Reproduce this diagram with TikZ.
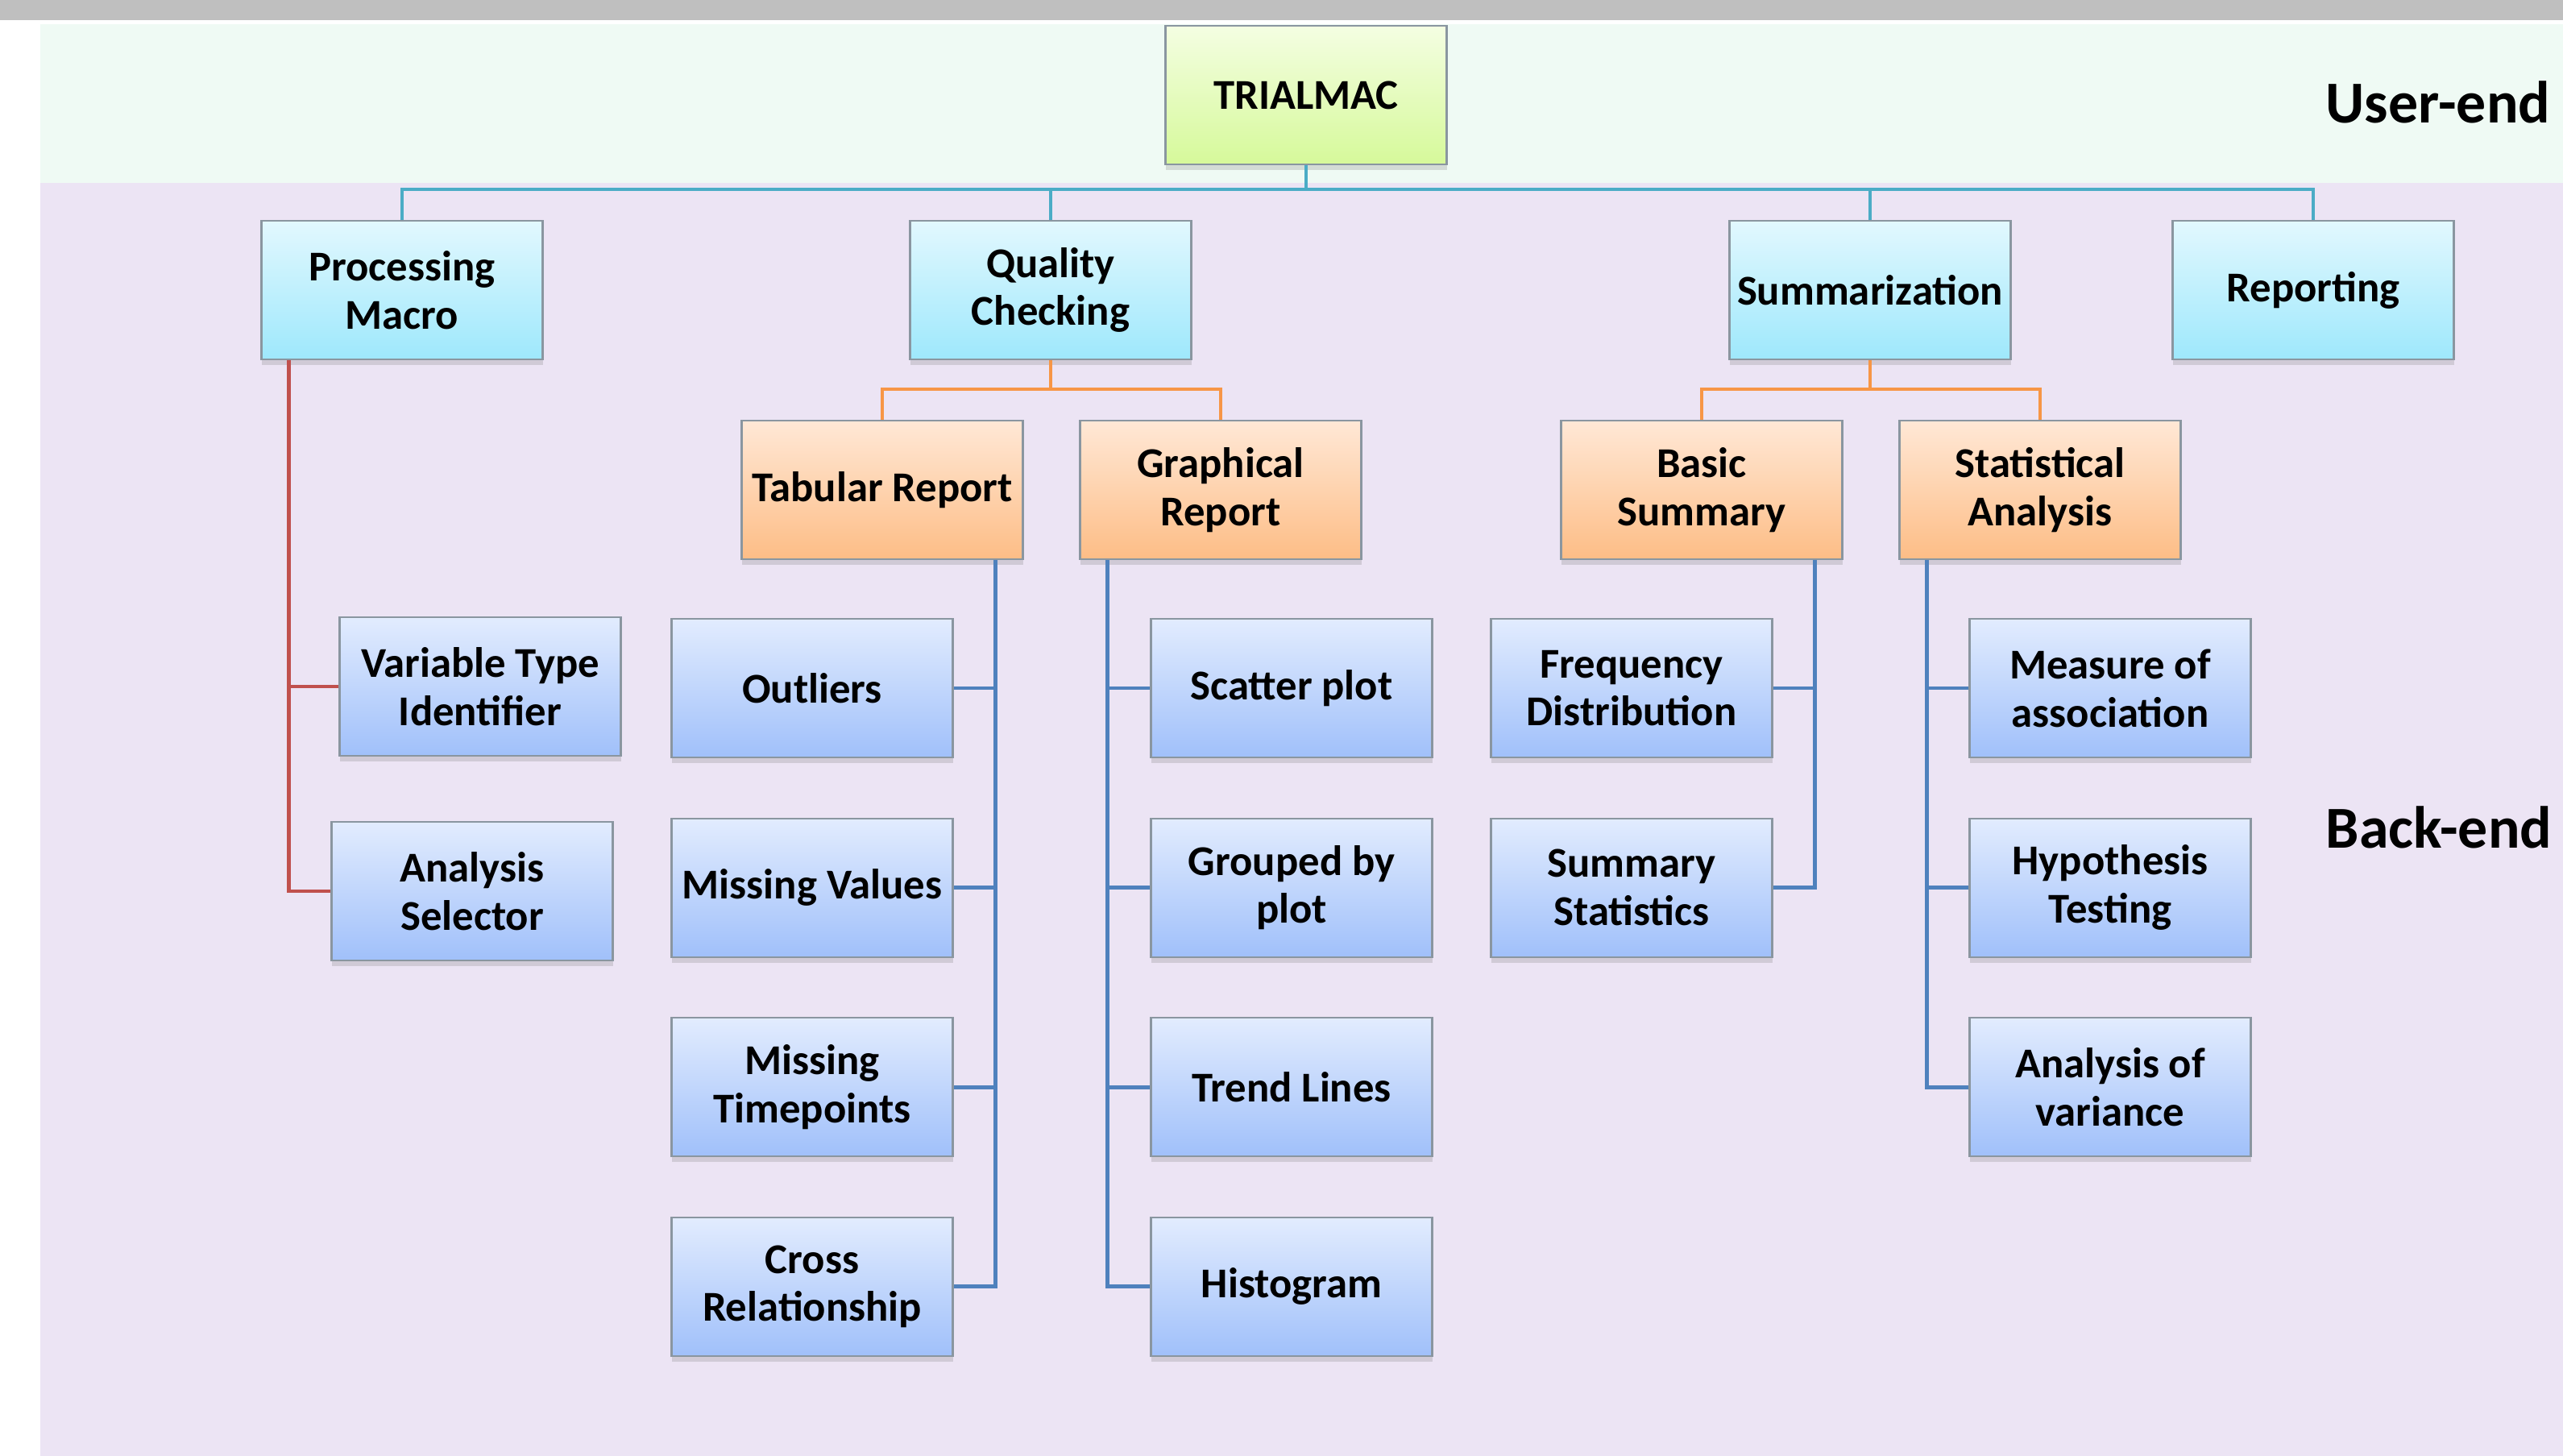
\documentclass[tikz,border=0pt]{standalone}
\usepackage{fontspec}
\setmainfont{Carlito}
\usetikzlibrary{positioning,calc,shadows}
\definecolor{topBar}{HTML}{BFBFBF}
\definecolor{userBg}{HTML}{EFFAF4}
\definecolor{backBg}{HTML}{ECE4F4}
\definecolor{boxEdge}{HTML}{8A96A0}
\definecolor{rootTop}{HTML}{F4FEE2}
\definecolor{rootBot}{HTML}{D6F99A}
\definecolor{mainTop}{HTML}{E2F8FE}
\definecolor{mainBot}{HTML}{9EE8FC}
\definecolor{subTop}{HTML}{FFE8D6}
\definecolor{subBot}{HTML}{FDBD86}
\definecolor{leafTop}{HTML}{E2ECFE}
\definecolor{leafBot}{HTML}{A0C0FA}
\definecolor{linkTeal}{HTML}{4BACC6}
\definecolor{linkOrange}{HTML}{F79646}
\definecolor{linkRed}{HTML}{C0504D}
\definecolor{linkBlue}{HTML}{4F81BD}
\newcommand{\boxfont}{\fontsize{15}{17}\selectfont\bfseries}
\tikzset{
  % Base styles
  chart base/.style={x=1mm, y=1mm, node distance=7.35mm},
  % Boxes of the hierarchy
  box base/.style={rectangle, draw=boxEdge, line width=0.6pt, minimum width=34.9mm, minimum height=17.2mm,
    inner sep=2pt, align=center, font=\boxfont,
    drop shadow={shadow xshift=0pt, shadow yshift=-0.7mm, opacity=0.25}},
  root box/.style={box base, top color=rootTop, bottom color=rootBot},
  main box/.style={box base, top color=mainTop, bottom color=mainBot},
  sub box/.style={box base, top color=subTop, bottom color=subBot},
  leaf box/.style={box base, top color=leafTop, bottom color=leafBot},
  % Layer labels
  layer label/.style={font=\fontsize{21}{24}\selectfont\bfseries, inner sep=0pt, anchor=base east},
  % Connectors
  link/.style={line width=1.4pt},
  link teal/.style={link, linkTeal},
  link orange/.style={link, linkOrange},
  link red/.style={link, linkRed},
  link blue/.style={link, linkBlue},
}

\begin{document}
\begin{tikzpicture}[chart base]
\useasboundingbox (0,0) rectangle (318.1,-180.7);

% Background bands
\fill[topBar] (0,0) rectangle (318.1,-2.5);
\fill[userBg] (5.0,-3.0) rectangle (318.1,-22.7);
\fill[backBg] (5.0,-22.7) rectangle (318.1,-180.7);
\node[layer label] (user) at (316.6,-15.2) {User-end};
\node[layer label] (back) at (316.8,-105.2) {Back-end};

% Root
\node[root box] (root) at (162.1,-11.8) {TRIALMAC};

% Level 1
\node[main box] (PM) at (49.9,-36.0) {Processing\\Macro};
\node[main box] (QC) at (130.4,-36.0) {Quality\\Checking};
\node[main box] (SM) at (232.1,-36.0) {Summarization};
\node[main box] (RP) at (287.1,-36.0) {Reporting};

% Level 2
\node[sub box] (TR) at (109.5,-60.8) {Tabular Report};
\node[sub box] (GR) at (151.5,-60.8) {Graphical\\Report};
\node[sub box] (BS) at (211.2,-60.8) {Basic\\Summary};
\node[sub box] (SA) at (253.2,-60.8) {Statistical\\Analysis};

% Leaves under Processing Macro
\node[leaf box] (VT) at (59.6,-85.2) {Variable Type\\Identifier};
\node[leaf box] (AS) at (58.6,-110.6) {Analysis\\Selector};

% Leaves under Tabular Report
\node[leaf box] (OL) at (100.8,-85.4) {Outliers};
\node[leaf box, below=of OL] (MV) {Missing Values};
\node[leaf box, below=of MV] (MT) {Missing\\Timepoints};
\node[leaf box, below=of MT] (CR) {Cross\\Relationship};

% Leaves under Graphical Report
\node[leaf box] (SP) at (160.3,-85.4) {Scatter plot};
\node[leaf box, below=of SP] (GP) {Grouped by\\plot};
\node[leaf box, below=of GP] (TL) {Trend Lines};
\node[leaf box, below=of TL] (HG) {Histogram};

% Leaves under Basic Summary
\node[leaf box] (FD) at (202.5,-85.4) {Frequency\\Distribution};
\node[leaf box, below=of FD] (SS) {Summary\\Statistics};

% Leaves under Statistical Analysis
\node[leaf box] (MA) at (261.9,-85.4) {Measure of\\association};
\node[leaf box, below=of MA] (HT) {Hypothesis\\Testing};
\node[leaf box, below=of HT] (AV) {Analysis of\\variance};

% Bus lines
\coordinate (busTop) at (0,-23.5);
\coordinate (busQC) at (0,-48.3);

% Root to level 1
\draw[link teal] (root.south) -- (root.south |- busTop);
\draw[link teal] (PM.north) |- (RP.north |- busTop) -- (RP.north);
\draw[link teal] (QC.north) -- (QC.north |- busTop);
\draw[link teal] (SM.north) -- (SM.north |- busTop);

% Level 1 to level 2
\draw[link orange] (QC.south) -- (QC.south |- busQC);
\draw[link orange] (TR.north) |- (GR.north |- busQC) -- (GR.north);
\draw[link orange] (SM.south) -- (SM.south |- busQC);
\draw[link orange] (BS.north) |- (SA.north |- busQC) -- (SA.north);

% Hanging lines
\coordinate (pmh) at ($(PM.south west)!0.1!(PM.south east)$);
\coordinate (trh) at ($(TR.south east)!0.1!(TR.south west)$);
\coordinate (grh) at ($(GR.south west)!0.1!(GR.south east)$);
\coordinate (bsh) at ($(BS.south east)!0.1!(BS.south west)$);
\coordinate (sah) at ($(SA.south west)!0.1!(SA.south east)$);

\draw[link red] (pmh) |- (AS.west);
\draw[link red] (pmh |- VT.west) -- (VT.west);

\draw[link blue] (trh) |- (CR.east);
\foreach \n in {OL,MV,MT}
  \draw[link blue] (trh |- \n.east) -- (\n.east);

\draw[link blue] (grh) |- (HG.west);
\foreach \n in {SP,GP,TL}
  \draw[link blue] (grh |- \n.west) -- (\n.west);

\draw[link blue] (bsh) |- (SS.east);
\draw[link blue] (bsh |- FD.east) -- (FD.east);

\draw[link blue] (sah) |- (AV.west);
\foreach \n in {MA,HT}
  \draw[link blue] (sah |- \n.west) -- (\n.west);
\end{tikzpicture}
\end{document}
